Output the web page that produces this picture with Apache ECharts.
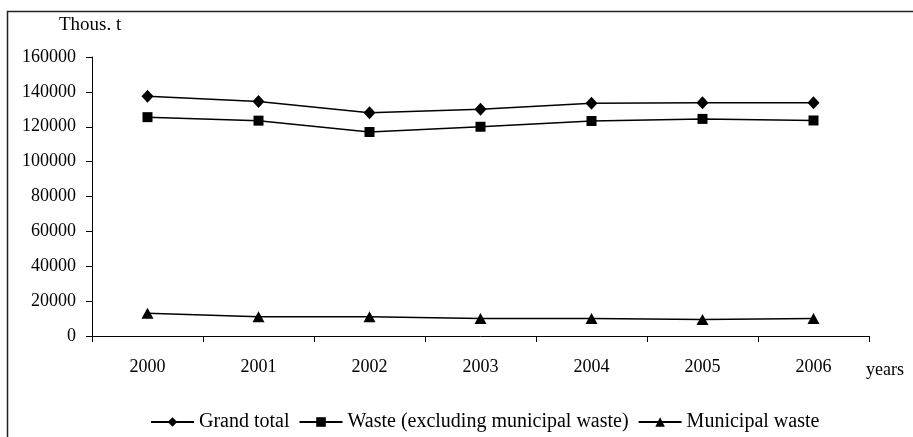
<!DOCTYPE html>
<html>
<head>
<meta charset="utf-8">
<style>
  html, body { margin: 0; padding: 0; background: #fff; }
  #chart { width: 913px; height: 437px; }
</style>
<script src="https://cdn.jsdelivr.net/npm/echarts@6/dist/echarts.min.js"></script>
</head>
<body>
<div id="chart"></div>
<script>
// Waste generation, thousand tonnes
const years = ['2000', '2001', '2002', '2003', '2004', '2005', '2006'];
const grandTotal = [137500, 134500, 128000, 130000, 133500, 133800, 133700];
const wasteExclMunicipal = [125500, 123500, 117000, 120000, 123300, 124500, 123600];
const municipalWaste = [13000, 11000, 11000, 10000, 10000, 9500, 10100];
const seriesNames = ['Grand total', 'Waste (excluding municipal waste)', 'Municipal waste'];

const FONT = '"Liberation Serif", "Times New Roman", serif';
const INK = '#000';

const chart = echarts.init(document.getElementById('chart'), null, { renderer: 'canvas' });

function lineSeries(name, data, symbol, size) {
  return {
    name: name,
    type: 'line',
    data: data,
    symbol: symbol,
    symbolSize: size,
    showAllSymbol: true,
    lineStyle: { color: INK, width: 1.5 },
    itemStyle: { color: INK, borderWidth: 0 },
    emphasis: { disabled: true },
    animation: false
  };
}

chart.setOption({
  backgroundColor: '#fff',
  animation: false,
  textStyle: { fontFamily: FONT, color: INK },
  grid: { left: 92, right: 44, top: 57, bottom: 101, containLabel: false },
  legend: {
    data: seriesNames,
    left: 145,
    top: 407,
    itemWidth: 43,
    itemHeight: 12,
    itemGap: 9,
    textStyle: { fontFamily: FONT, fontSize: 20, color: INK },
    selectedMode: false
  },
  xAxis: {
    type: 'category',
    data: years,
    boundaryGap: true,
    axisLine: { show: true, lineStyle: { color: INK, width: 1 } },
    axisTick: { show: true, alignWithLabel: false, length: 6, lineStyle: { color: INK } },
    axisLabel: { fontFamily: FONT, fontSize: 18, color: INK, margin: 22 },
    splitLine: { show: false }
  },
  yAxis: {
    type: 'value',
    min: 0,
    max: 160000,
    interval: 20000,
    axisLine: { show: true, lineStyle: { color: INK, width: 1 } },
    axisTick: { show: true, length: 6, lineStyle: { color: INK } },
    axisLabel: {
      fontFamily: FONT, fontSize: 18, color: INK, margin: 16,
      formatter: function (v) { return String(v); }
    },
    splitLine: { show: false }
  },
  graphic: [
    {
      type: 'rect',
      left: 5, top: 9,
      shape: { x: 0, y: 0, width: 930, height: 460 },
      style: { fill: 'none', stroke: '#222', lineWidth: 1.5 },
      silent: true
    },
    {
      type: 'text',
      left: 59, top: 16,
      style: { text: 'Thous. t', font: '19px ' + FONT, fill: INK }
    },
    {
      type: 'text',
      left: 866, top: 361,
      style: { text: 'years', font: '18px ' + FONT, fill: INK }
    }
  ],
  series: [
    lineSeries(seriesNames[0], grandTotal, 'diamond', [12, 13]),
    lineSeries(seriesNames[1], wasteExclMunicipal, 'rect', 10),
    lineSeries(seriesNames[2], municipalWaste, 'triangle', [12, 11])
  ]
});
</script>
</body>
</html>
